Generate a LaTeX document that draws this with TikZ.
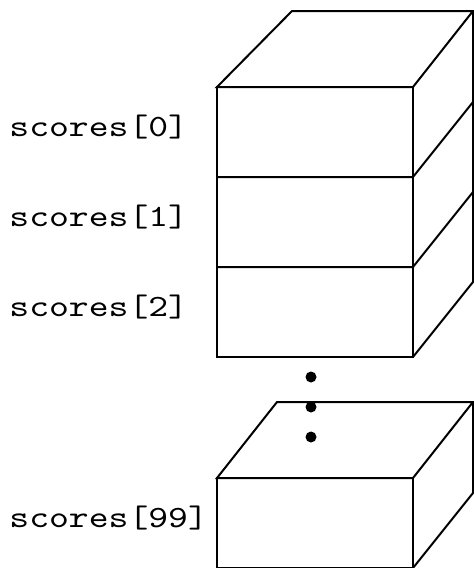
\documentclass[tikz,border=0pt]{standalone}
\usepackage{fontspec}
\setmonofont{lmmono10-regular.otf}[FakeStretch=1.22]
\usetikzlibrary{positioning}
\tikzset{
  edge/.style={line width=1pt, line join=miter},
  idxlabel/.style={font=\ttfamily\fontsize{15.5}{18}\selectfont, anchor=base west, inner sep=0pt},
  dot/.style={circle, fill=black, inner sep=0pt, minimum size=5.5pt},
}

\begin{document}
\begin{tikzpicture}[x=0.5pt, y=-0.5pt]
    \useasboundingbox (0,0) rectangle (474,568);

    % Upper block: three stacked cells
    \draw[edge] (292,11) -- (473,11) -- (413,87) -- (217,87) -- cycle;
    \draw[edge] (217,87) rectangle (413,357);
    \foreach \y in {177,267} {
        \draw[edge] (217,\y) -- (413,\y) -- ++(60,-75);
    }
    \draw[edge] (473,11) -- (473,282) -- (413,357);

    % Gap dots
    \foreach \y/\n in {377/a,407/b,437/c} {
        \node[dot] (dot\n) at (311,\y) {};
    }

    % Lower block: last cell
    \draw[edge] (277,402) -- (473,402) -- (413,478) -- (217,478) -- cycle;
    \draw[edge] (217,478) rectangle (413,568);
    \draw[edge] (413,568) -- (473,493) -- (473,402);

    % Index labels
    \node[idxlabel] (lbl0) at (9,136) {scores[0]};
    \node[idxlabel] (lbl1) at (9,226) {scores[1]};
    \node[idxlabel] (lbl2) at (9,316) {scores[2]};
    \node[idxlabel] (lbl99) at (9,527) {scores[99]};

\end{tikzpicture}
\end{document}
